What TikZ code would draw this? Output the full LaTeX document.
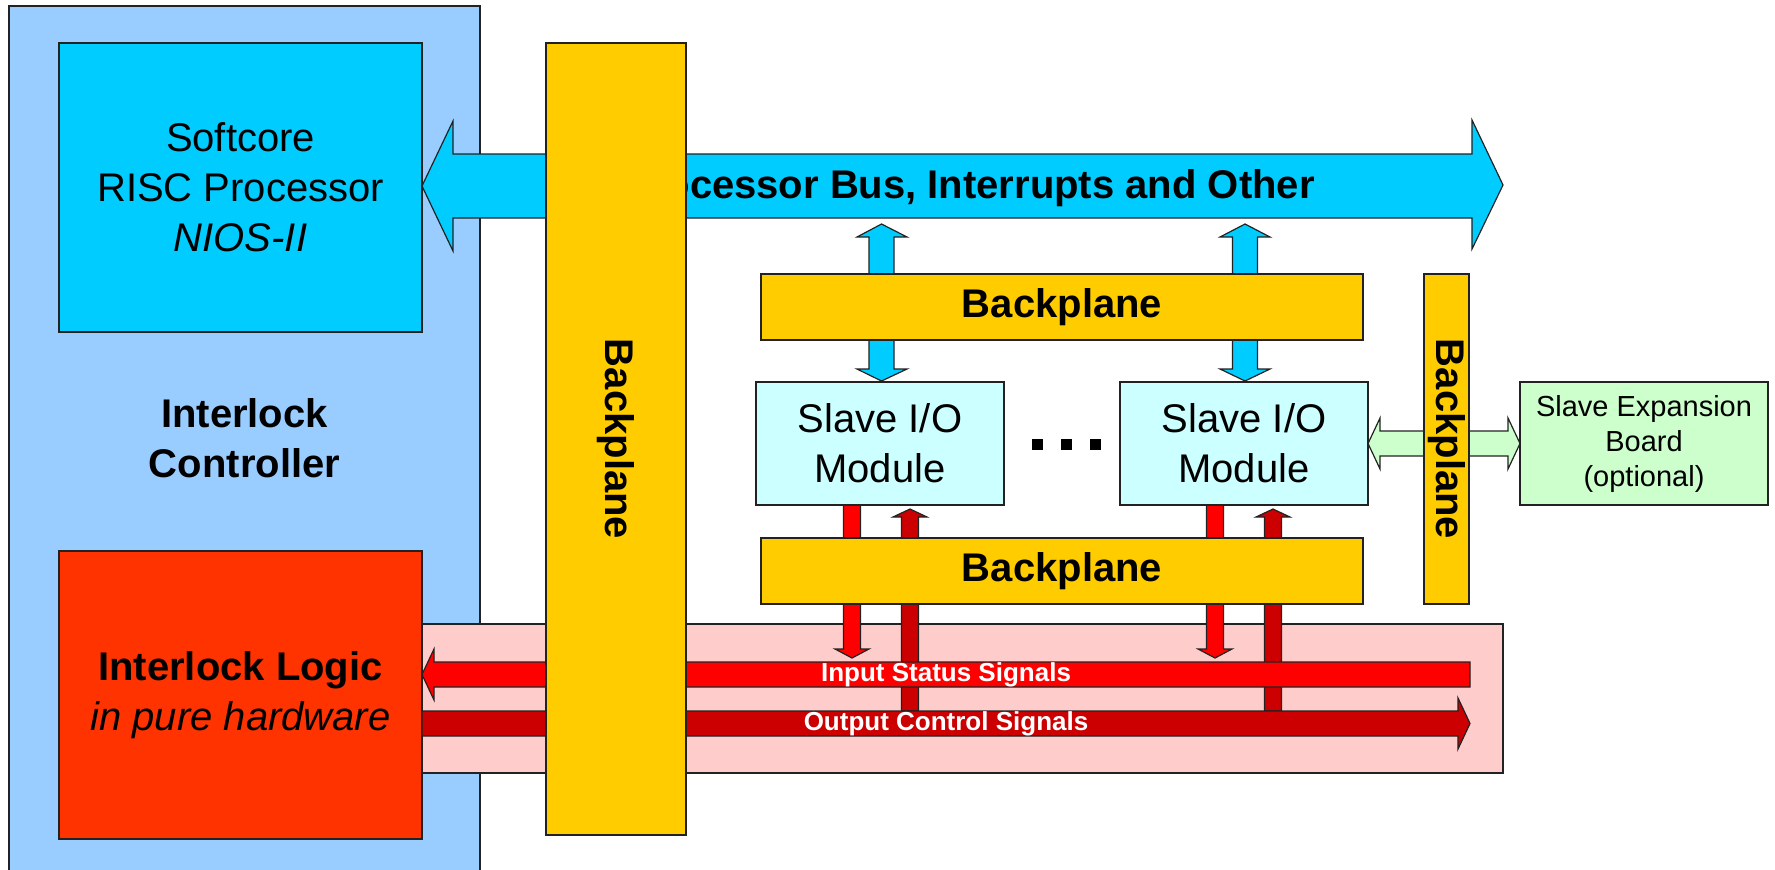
\documentclass[tikz,border=0pt]{standalone}
\usepackage{fontspec}
\setmainfont{Liberation Sans}
\usetikzlibrary{fit}
\definecolor{outerblue}{HTML}{99CCFF}
\definecolor{cpucol}{HTML}{00CCFF}
\definecolor{logiccol}{HTML}{FF3300}
\definecolor{bpcol}{HTML}{FFCC00}
\definecolor{pinkcol}{HTML}{FFCCCC}
\definecolor{inred}{HTML}{FF0000}
\definecolor{outred}{HTML}{CC0000}
\definecolor{modcol}{HTML}{CCFFFF}
\definecolor{expcol}{HTML}{CCFFCC}
\definecolor{edge}{HTML}{222222}
\newcommand\mkbox[6]{\path (#2,#3) coordinate (#1-a) (#4,#5) coordinate (#1-b); \node[fit=(#1-a)(#1-b), inner sep=0pt, #6] (#1)}
\begin{document}
\begin{tikzpicture}[x=0.5pt,y=-0.5pt,
  shapeline/.style={draw=edge, line width=0.6pt},
  bigtxt/.style={font=\fontsize{20pt}{25pt}\selectfont, align=center, text=black},
  boldtxt/.style={font=\fontsize{20pt}{25pt}\selectfont\bfseries, align=center, text=black},
  sigtxt/.style={font=\fontsize{13pt}{15pt}\selectfont\bfseries, text=white, inner sep=0pt},
  bpbox/.style={shapeline, fill=bpcol},
  modbox/.style={shapeline, fill=modcol}
]
\useasboundingbox (0,0) rectangle (1775,869);
\clip (0,0) rectangle (1775,869);

% outer controller area
\mkbox{ctrl}{9}{6}{480}{890}{shapeline, fill=outerblue}{};
\node[boldtxt] (ctrltxt) at (244.5,438) {Interlock\\Controller};

% processor and logic
\mkbox{cpu}{59}{43}{422}{332}{shapeline, fill=cpucol}{};
\node[bigtxt] (cputxt) at (cpu.center) {Softcore\\RISC Processor\\\textit{NIOS-II}};
\mkbox{logic}{59}{551}{422}{839}{shapeline, fill=logiccol}{};
\node[bigtxt] (logictxt) at (logic.center) {\textbf{Interlock Logic}\\\textit{in pure hardware}};

% pink signal region
\mkbox{pink}{422}{624}{1503}{773}{shapeline, fill=pinkcol}{};

% vertical red arrows (behind bars and lower backplane)
\draw[shapeline, fill=outred] (901.5,711) -- (901.5,517) -- (893,517) -- (910,509) -- (927,517) -- (918.5,517) -- (918.5,711) -- cycle;
\draw[shapeline, fill=outred] (1264.5,711) -- (1264.5,517) -- (1256,517) -- (1273,509) -- (1290,517) -- (1281.5,517) -- (1281.5,711) -- cycle;
\draw[shapeline, fill=inred] (843.5,505) -- (860.5,505) -- (860.5,649) -- (869,649) -- (852,658) -- (835,649) -- (843.5,649) -- cycle;
\draw[shapeline, fill=inred] (1206.5,505) -- (1223.5,505) -- (1223.5,649) -- (1232,649) -- (1215,658) -- (1198,649) -- (1206.5,649) -- cycle;

% input / output signal arrows
\draw[shapeline, fill=inred] (422,674.5) -- (434,649) -- (434,662) -- (1470,662) -- (1470,687) -- (434,687) -- (434,700) -- cycle;
\draw[shapeline, fill=outred] (422,711) -- (1458,711) -- (1458,698) -- (1470,723.5) -- (1458,749) -- (1458,736) -- (422,736) -- cycle;
\node[sigtxt] (insig) at (946,674.5) {Input Status Signals};
\node[sigtxt] (outsig) at (946,723.5) {Output Control Signals};

% processor bus arrow
\draw[shapeline, fill=cpucol] (422,186) -- (453,121) -- (453,154) -- (1472,154) -- (1472,120) -- (1503,185) -- (1472,249) -- (1472,218) -- (453,218) -- (453,251) -- cycle;
\node[font=\fontsize{20pt}{24pt}\selectfont\bfseries, anchor=base east, inner sep=0pt] (bustxt) at (1315,198) {Processor Bus, Interrupts and Other};

% cyan double arrows
\draw[shapeline, fill=cpucol] (881.5,224) -- (907,237) -- (894,237) -- (894,369) -- (907,369) -- (881.5,381) -- (857,369) -- (869,369) -- (869,237) -- (857,237) -- cycle;
\draw[shapeline, fill=cpucol] (1245,224) -- (1270,237) -- (1257.5,237) -- (1257.5,369) -- (1270,369) -- (1245,381) -- (1220,369) -- (1232.5,369) -- (1232.5,237) -- (1220,237) -- cycle;

% green double arrow to expansion board
\draw[shapeline, fill=expcol] (1368,443.5) -- (1380,418) -- (1380,431) -- (1508,431) -- (1508,418) -- (1520,443.5) -- (1508,469) -- (1508,456) -- (1380,456) -- (1380,469) -- cycle;

% backplanes
\mkbox{bpv}{546}{43}{686}{835}{bpbox}{};
\node[boldtxt, rotate=-90] (bpvtxt) at (bpv.center) {Backplane};
\mkbox{bpup}{761}{274}{1363}{340}{bpbox}{};
\node[boldtxt] (bpuptxt) at (bpup.center) {Backplane};
\mkbox{bplow}{761}{538}{1363}{604}{bpbox}{};
\node[boldtxt] (bplowtxt) at (bplow.center) {Backplane};
\mkbox{bpr}{1424}{274}{1469}{604}{bpbox}{};
\node[boldtxt, rotate=-90] (bprtxt) at (bpr.center) {Backplane};

% slave modules
\mkbox{mod1}{756}{382}{1004}{505}{modbox}{};
\node[bigtxt] (mod1txt) at (mod1.center) {Slave I/O\\Module};
\mkbox{mod2}{1120}{382}{1368}{505}{modbox}{};
\node[bigtxt] (mod2txt) at (mod2.center) {Slave I/O\\Module};
\mkbox{exp}{1520}{382}{1768}{505}{shapeline, fill=expcol}{};
\node[font=\fontsize{14.5pt}{17.5pt}\selectfont, align=center] (exptxt) at (exp.center) {Slave Expansion\\Board\\(optional)};

% ellipsis between modules
\fill (1032,439) rectangle (1043,450);
\fill (1061,439) rectangle (1072,450);
\fill (1090,439) rectangle (1101,450);
\end{tikzpicture}
\end{document}
